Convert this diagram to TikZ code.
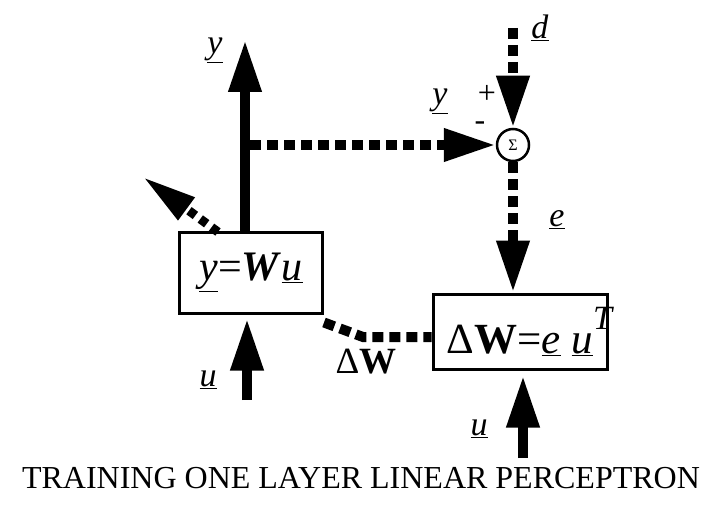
\documentclass[tikz,border=0pt]{standalone}
\usepackage{fontspec}
\setmainfont{Liberation Serif}
\usetikzlibrary{arrows.meta, positioning}
\tikzset{
  bigtip/.style={-{Triangle[length=52pt,width=31pt]}},
  sig/.style={line width=10pt},
  dsig/.style={line width=10pt, dash pattern=on 11pt off 6pt},
  blk/.style={draw, line width=3pt, minimum width=143pt, minimum height=81pt, inner sep=0pt},
  lab/.style={font=\fontsize{34}{34}\selectfont},
  sgn/.style={inner sep=0pt, font=\fontsize{32}{32}\selectfont}}

\begin{document}
\begin{tikzpicture}[x=1pt,y=-1pt]
 \useasboundingbox (0,0) rectangle (706,505);
    \node[blk] (lin) at (251,272.5) {\fontsize{42}{42}\selectfont\underline{\textit{y}}=\textit{\textbf{W}}\underline{\textit{u}}};
    \node[blk, minimum width=174pt, minimum height=75pt] (upd) at (520,331.5) {\fontsize{43}{43}\selectfont Δ\textbf{W}=\underline{\textit{e}} \underline{\textit{u}}\rlap{\raisebox{24pt}{\fontsize{34}{34}\selectfont\textit{T}}}};
        \node[draw, circle, line width=2.5pt, minimum size=32pt, inner sep=0pt] (sum) at (513,145) {\fontsize{16}{16}\selectfont Σ};
    \coordinate (yout) at (245,40);
    \coordinate (ybr) at (250,145);
    \coordinate (din) at (513,28);
    \coordinate (bend) at (363,337);
    \coordinate (uin) at (247,400);
    \coordinate (uup) at (523,458);
    \coordinate (yaux) at (143,177);
    \coordinate (yfoot) at (218,232);
     \draw [sig, bigtip] (yout |- lin.north) -- (yout);
      \draw [dsig, bigtip] (ybr) -- (sum.west);
      \draw [dsig, bigtip] (din) -- (sum.north);
      \draw [dsig, bigtip] (sum.south) -- (sum.south |- upd.north);
      \draw [dsig] ([yshift=-8pt]lin.south east) -- (bend) -- (bend -| upd.west);
      \draw [sig, bigtip, shorten >=4pt] (uin) -- (uin |- lin.south);
      \draw [sig, bigtip, shorten >=5pt] (uup) -- (uup |- upd.south);
      \draw [line width=9pt, dash pattern=on 8pt off 6pt, -{Triangle[length=54pt,width=26pt]}] (yfoot) -- (yaux);
   \node[lab] (ylab) at (215,50) {\underline{\textit{y}}};
   \node[lab] (dlab) at (540,28) {\underline{\textit{d}}};
   \node[lab] (elab) at (557,220) {\underline{\textit{e}}};
   \node[lab] (yslab) at (440,101) {\underline{\textit{y}}};
   \node[sgn] (plus) at (487,94) {+};
   \node[sgn] (minus) at (480,126) {-};
   \node[lab] (u1lab) at (208,380) {\underline{\textit{u}}};
   \node[lab] (u2lab) at (479,429) {\underline{\textit{u}}};
   \node[font=\fontsize{37}{37}\selectfont] (dwlab) at (366,362) {Δ\textbf{W}};
  \node[font=\fontsize{32}{32}\selectfont] (title) at (361,478) {TRAINING ONE LAYER LINEAR PERCEPTRON};
\end{tikzpicture}
\end{document}
